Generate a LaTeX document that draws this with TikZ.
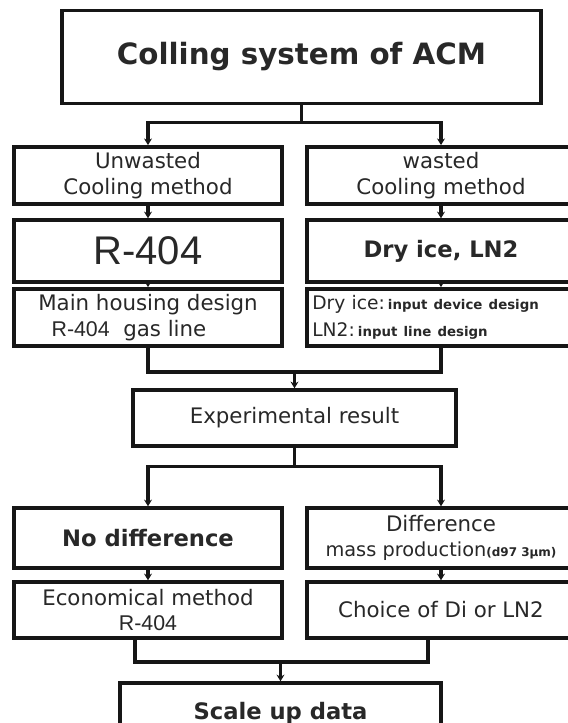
\documentclass[tikz,border=0pt]{standalone}
\usepackage{fontspec}
\setmainfont{DejaVu Sans}
\newfontfamily\arialfont{Liberation Sans}
\usetikzlibrary{arrows.meta,positioning}
\definecolor{ink}{RGB}{22,22,22}
\definecolor{txt}{RGB}{40,40,40}
\tikzset{
    stage/.style={
        rectangle,
        draw=ink,
        line width=2.6pt,
        fill=white,
        text=txt,
        align=center,
        inner sep=0pt,
        font=\fontsize{16}{19}\selectfont
    },
    colbox/.style={stage, minimum width=201pt},
    midbox/.style={stage, minimum width=242pt},
    boldtext/.style={font=\fontsize{17}{20}\selectfont\bfseries},
    smallbold/.style={font=\fontsize{10}{12}\selectfont\bfseries},
    rail/.style={draw=ink, line width=2.6pt},
    link/.style={
        -{Stealth[length=5pt,width=6pt]},
        draw=ink,
        line width=2.6pt
    }
}
\begin{document}
\begin{tikzpicture}[x=0.75pt, y=-0.75pt]
\useasboundingbox (0,0) rectangle (567,723);

% Top
\node[stage, minimum width=359pt, minimum height=70pt,
      font=\fontsize{22}{26}\selectfont\bfseries] (acm) at (301.5,57) {Colling system of ACM};

% Left / right column
\node[colbox, minimum height=43pt] (unw) at (148,175.5) {Unwasted\\Cooling method};
\node[colbox, minimum height=43pt] (was) at (441,175.5) {wasted\\Cooling method};

\node[colbox, minimum height=46.5pt, font=\arialfont\fontsize{30}{34}\selectfont] (r404) at (148,251) {R-404};
\node[colbox, minimum height=46.5pt, boldtext] (dry) at (441,251) {Dry ice, LN2};

\node[colbox, minimum height=43pt, align=left] (house) at (148,317.5)
    {Main housing design\\\hspace{10pt}{\arialfont R-404}\ \ gas line};
\node[colbox, minimum height=43pt, align=left, text width=193pt,
      font=\fontsize{14}{17}\selectfont] (input) at (441,317.5)
    {Dry ice:\,{\fontsize{10}{12}\selectfont\bfseries input device design}\\[3pt]
     LN2:\,{\fontsize{10}{12}\selectfont\bfseries input line design}};

% Middle
\node[midbox, minimum height=42pt] (exp) at (294.5,418) {Experimental result};

\node[colbox, minimum height=45pt, boldtext] (nodiff) at (148,538) {No difference};
\node[colbox, minimum height=45pt] (diff) at (441,538)
    {Difference\\{\fontsize{14.5}{17}\selectfont mass production}{\fontsize{9}{11}\selectfont\bfseries(d97 3μm)}};

\node[colbox, minimum height=42pt] (econ) at (148,610) {Economical method\\{\arialfont R-404}};
\node[colbox, minimum height=42pt] (choice) at (441,610) {Choice of Di or LN2};

% Bottom
\node[stage, minimum width=241pt, minimum height=45pt, boldtext] (scale) at (280.5,713) {Scale up data};

% Connectors
\draw[link] (acm.south) -- ++(0,17) -| (unw.north);
\draw[link] (acm.south) -- ++(0,17) -| (was.north);
\draw[link] (unw.south) -- (r404.north);
\draw[link] (was.south) -- (dry.north);
\draw[link] (r404.south) -- (house.north);
\draw[link] (dry.south) -- (input.north);

\coordinate (join1) at (294.5,372);
\draw[rail] (house.south) |- (join1) -| (input.south);
\draw[link] (join1) -- (exp.north);

\draw[link] (exp.south) -- ++(0,19) -| (nodiff.north);
\draw[link] (exp.south) -- ++(0,19) -| (diff.north);
\draw[link] (nodiff.south) -- (econ.north);
\draw[link] (diff.south) -- (choice.north);

\coordinate (join2) at (280.5,662);
\draw[rail] ([xshift=-9.75pt]econ.south) |- (join2) -| ([xshift=-9.75pt]choice.south);
\draw[link] (join2) -- (scale.north);
\end{tikzpicture}
\end{document}
